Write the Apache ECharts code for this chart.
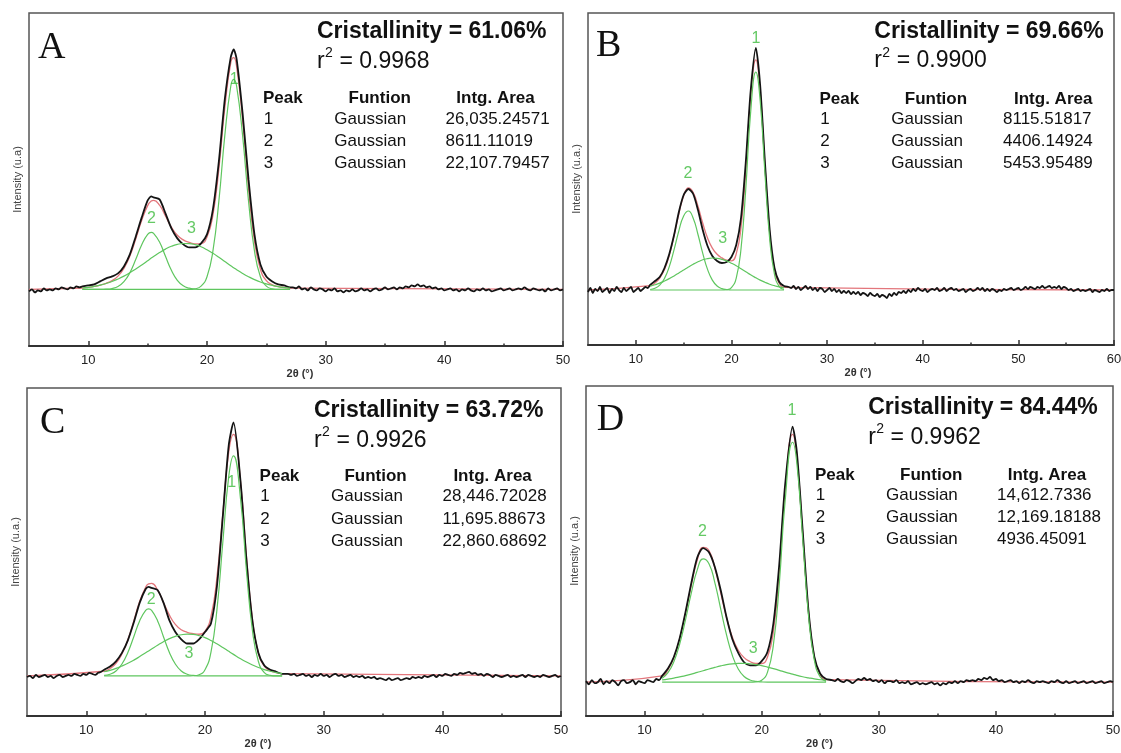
<!DOCTYPE html>
<html><head><meta charset="utf-8">
<script src="https://cdn.jsdelivr.net/npm/echarts@6/dist/echarts.min.js"></script>
<style>html,body{margin:0;padding:0;background:#fff}#c{width:1121px;height:753px}</style>
</head><body><div id="c"></div>
<script>
// ---------------- DATA ----------------
const panelLetters = ['A', 'B', 'C', 'D'];
const crystallinity = ['61.06%', '69.66%', '63.72%', '84.44%'];
const r2Values = ['0.9968', '0.9900', '0.9926', '0.9962'];
const yAxisNames = ['Intensity (u.a)', 'Intensity (u.a.)', 'Intensity (u.a.)', 'Intensity (u.a.)'];
const xAxisName = '2θ (°)';
const xMax = [50, 60, 50, 50];
const majorTicksA = [10, 20, 30, 40, 50];
const majorTicksB = [10, 20, 30, 40, 50, 60];
const minorTicksA = [15, 25, 35, 45];
const minorTicksB = [15, 25, 35, 45, 55];
const tableHeader = ['Peak', 'Funtion', 'Intg. Area'];
const peakNumbers = ['1', '2', '3'];
const functionName = 'Gaussian';
const areasA = ['26,035.24571', '8611.11019', '22,107.79457'];
const areasB = ['8115.51817', '4406.14924', '5453.95489'];
const areasC = ['28,446.72028', '11,695.88673', '22,860.68692'];
const areasD = ['14,612.7336', '12,169.18188', '4936.45091'];

// Panel A (2θ grid of the fitted region, Gaussian components, cumulative fit, measured curve)
const peakX_A = [9.5,10,10.5,11,11.5,12,12.5,13,13.5,14,14.5,15,15.3,15.5,16,16.5,17,17.5,18,18.5,19,19.5,20,20.5,21,21.5,22,22.25,22.5,23,23.5,24,24.5,25,25.5,26,26.5,27];
const comp1_A = [0,0,0,0,0,0,0,0,0,0,0,0,0,0,0,0,0,0,0,0,0.6,3.2,12.7,38.5,88.3,153.8,202.9,210,202.9,153.8,88.3,38.5,12.7,3.2,0.6,0,0,0];
const comp2_A = [0,0,0,0,0.2,0.9,2.9,7.7,16.7,30.1,44.7,55.1,57,56.1,47.4,33.1,19.1,9.1,3.6,1.2,0.3,0,0,0,0,0,0,0,0,0,0,0,0,0,0,0,0,0];
const comp3_A = [1.4,2.1,3.0,4.3,5.9,7.9,10.4,13.3,16.7,20.5,24.5,28.7,31.3,32.9,36.8,40.3,43.1,45.0,45.9,45.8,44.7,42.6,39.6,36.1,32.1,27.9,23.7,21.7,19.7,16.0,12.7,9.8,7.4,5.5,4.0,2.8,1.9,1.3];
const fit_A = [1.4,2.1,3.0,4.3,6.1,8.8,13.3,21.0,33.4,50.6,69.2,83.8,88.3,89.0,84.2,73.4,62.2,54.1,49.5,47.0,45.6,45.8,52.3,74.6,120.4,181.7,226.6,231.7,222.6,169.8,101.0,48.3,20.1,8.7,4.6,2.8,1.9,1.3];
const measPeak_A = [3,4,5,8,11,13,16,23,35,53,72,89,93,92,90,76,61,51,45,42,42,46,55,80,128,190,232,240,230,176,110,55,25,13,8,5,4,2];
const measLeft_A = [-2,0,-3,-1,-2,1,-1,0,-1,1,0,2,1,0,2,1,3,2];            // 5.00 .. 9.25, every 0.25
const measRight_A = [2,1,3,0, 1,-1,2,0, -1,1,0,-2, 0,-1,1,-2, -1,-3,-1,-2, 0,-2,-1,1, -1,0,-2,0, 1,-1,0,2, 0,1,2,0, 2,1,3,2, 4,3,5,3, 4,2,3,1, 2,0,1,-1, 0,1,-1,0, -2,0,-1,1, -1,-2,0,-1, 1,-1,0,-2, -1,0,1,-1, 0,1,-1,0, 1,0,2,0, -1,1,0,-1, 0,-2,1,-1, 0,1,-1,0]; // 27.25 .. 50
const labels_A = [[22.29, 209.8, '1'], [15.31, 70.9, '2'], [18.69, 60.6, '3']];

// Panel B
const peakX_B = [11.5,12,12.5,13,13.5,14,14.5,15,15.5,16,16.5,17,17.5,18,18.5,19,19.5,20,20.5,21,21.5,22,22.55,23,23.5,24,24.5,25,25.5];
const comp1_B = [0,0,0,0,0,0,0,0,0,0,0,0,0,0,0,0,0.3,2.4,11.9,41.3,101.6,176.8,218,189.5,116.7,50.9,15.7,3.4,0.5];
const comp2_B = [0.5,1.8,4.9,11.6,23.4,40.3,59.2,74.0,79.0,71.7,55.5,36.6,20.6,9.9,4.0,1.4,0.4,0,0,0,0,0,0,0,0,0,0,0,0];
const comp3_B = [3.8,5.2,6.9,9.0,11.4,14.1,17.0,20.0,23.0,25.8,28.2,30.2,31.4,32.0,31.7,30.7,29.1,26.8,24.2,21.2,18.2,15.2,12.2,9.9,7.7,5.8,4.3,3.1,2.2];
const fit_B = [4.3,7.0,11.8,20.6,34.8,54.4,76.2,94.0,102.0,97.5,83.7,66.8,52.0,41.9,35.7,32.1,29.8,29.2,36.1,62.5,119.8,192.0,230.2,199.4,124.4,56.7,20.0,6.5,2.7];
const measPeak_B = [5,9,13,22,36,55,78,95,101,96,80,60,44,34,29,27,28,33,45,72,128,198,242,205,128,60,22,8,4];
const measLeft_B = [-2,2,-3,1,-1,3,-2,0,2,-3,1,-1,3,0,-2,2,-1,1,3,-2,0,2,-1,1,3,2];   // 5.00 .. 11.25
const measRight_B = [3,2,4,1, 3,0,2,4, 1,3,0,2, -1,2,1,-2, 0,2,-1,1, -2,0,-3,-1, -3,-1,-4,-2, -4,-2,-5,-3, -4,-6,-3,-5, -6,-4,-7,-5, -6,-8,-4,-6, -3,-5,-2,-3, -1,-3,0,-2, 1,-1,2,0, -1,1,-2,0, 1,0,2,-1, 0,2,-1,1, 2,0,1,-1, 0,1,-2,0, 1,-1,0,2, 0,2,-1,1, -1,1,0,-2, 0,-1,1,0, 1,2,0,1, 2,0,1,3, 1,3,2,1, 3,2,4,2, 3,4,2,3, 2,4,1,3, 2,0,1,-1, 0,1,-1,0, -1,0,1,-2, 0,-1,-2,0, -1,1,-1,0, 0]; // 26 .. 60
const labels_B = [[22.57, 251, '1'], [15.46, 116, '2'], [19.08, 51.2, '3']];

// Panel C
const peakX_C = [11.5,12,12.5,13,13.5,14,14.5,15,15.25,15.5,16,16.5,17,17.5,18,18.5,19,19.5,20,20.5,21,21.5,22,22.4,23,23.5,24,24.5,25,25.5,26,26.5];
const comp1_C = [0,0,0,0,0,0,0,0,0,0,0,0,0,0,0,0,0.2,1.2,6.0,22.6,62.6,127.4,190.2,210,168.2,99.5,43.3,13.8,3.2,0.6,0,0];
const comp2_C = [0.5,1.7,4.8,11.4,22.5,37.5,52.8,62.6,64,62.6,52.8,37.5,22.5,11.4,4.8,1.7,0.5,0.1,0,0,0,0,0,0,0,0,0,0,0,0,0,0];
const comp3_C = [4.0,5.4,7.2,9.5,12.1,15.1,18.5,22.1,23.9,25.7,29.3,32.7,35.6,37.8,39.3,40.0,39.7,38.5,36.6,33.9,30.7,27.2,23.5,20.6,16.4,13.3,10.5,8.1,6.1,4.5,3.2,2.3];
const fit_C = [4.5,7.1,12.0,20.9,34.6,52.6,71.3,84.7,87.9,88.3,82.1,70.2,58.1,49.2,44.1,41.7,40.4,39.8,42.6,56.5,93.3,154.6,213.7,230.6,184.6,112.8,53.8,21.9,9.3,5.1,3.2,2.3];
const measPeak_C = [6,9,14,22,34,51,70,83,85,84,82,70,53,42,35,31,31,35,42,50,85,152,220,242,185,110,52,22,10,6,4,2];
const measLeft_C = [-1,0,-2,1,-1,0,1,-1,0,-2,0,1,-1,0,1,0,2,1,0,2,1,3,2,1,3,4];   // 5.00 .. 11.25
const measRight_C = [2,1,2,0, 1,2,0,1, -1,1,0,2, 0,1,-1,1, 2,0,1,-1, 0,1,-1,0, -1,0,-2,-1, -2,-1,-3,-2, -3,-4,-2,-4, -3,-2,-4,-3, -2,-3,-1,-2, -1,-2,0,-1, 0,1,-1,1, 0,2,1,0, 2,1,3,2, 3,4,2,3, 1,2,0,2, 1,-1,1,0, -1,0,1,-1, 0,-1,0,1, -1,1,0,-1, 0,-1,1,0, -1,0,1,-1, 0]; // 27 .. 50
const labels_C = [[22.26, 184.8, '1'], [15.47, 72.8, '2'], [18.64, 21.1, '3']];

// Panel D
const peakX_D = [11.5,12,12.5,13,13.5,14,14.5,15,15.5,16,16.5,17,17.5,18,18.5,19,19.5,20,20.5,21,21.5,22,22.64,23,23.5,24,24.5,25,25.5];
const comp1_D = [0,0,0,0,0,0,0,0,0,0,0,0,0,0,0,0,0.3,1.8,9.6,35.6,93.2,172.4,229,209.4,137.2,63.7,20.9,4.9,0.8];
const comp2_D = [3.7,9.1,19.5,36.4,59.7,85.5,107.2,117.7,113.1,95.1,70.0,45.1,25.4,12.6,5.4,2.1,0.7,0.2,0,0,0,0,0,0,0,0,0,0,0];
const comp3_D = [2.2,2.9,3.8,5.0,6.2,7.7,9.3,10.9,12.6,14.1,15.5,16.7,17.5,17.9,18.0,17.6,16.8,15.8,14.4,12.9,11.3,9.6,7.6,6.5,5.2,4.1,3.1,2.3,1.7];
const fit_D = [5.9,12.0,23.3,41.4,65.9,93.2,116.5,128.6,125.7,109.2,85.5,61.8,42.9,30.5,23.4,19.7,17.8,17.8,24.0,48.5,104.5,182.0,236.6,215.9,142.4,67.8,24.0,7.2,2.5];
const measPeak_D = [6,13,24,42,67,95,119,128,124,110,88,62,41,28,19,16,16,20,29,56,112,188,244,220,145,68,24,8,3];
const measLeft_D = [1,-2,2,-1,0,3,-2,1,-1,2,0,-3,1,2,-1,0,2,-2,1,0,-1,2,1,0,3,2];   // 5.00 .. 11.25
const measRight_D = [2,1,3,1, 0,2,1,-1, 1,3,2,4, 2,3,1,2, 0,2,-1,1, 1,0,2,-1, 0,-1,1,-2, -1,0,-2,-1, -2,-1,0,-2, -1,-3,-1,-2, 0,-1,1,-1, 1,0,2,1, 2,1,3,2, 4,3,5,2, 3,1,2,0, 1,2,0,1, -1,1,0,2, 0,-1,1,0, 1,0,-1,1, 0,2,0,-1, 1,-1,0,1, -1,0,1,-1, 0,1,-1,0, 1,-1,0,1, 0]; // 26 .. 50
const labels_D = [[22.58, 259, '1'], [14.94, 143.4, '2'], [19.28, 31.7, '3']];

// ---------------- LAYOUT ----------------
const layout = [
  {left: 29, top: 13, width: 534, height: 333, yMin: -56.6, yMax: 276.4, nameGap: 22, namePad: [0, 0, 0, 8]},
  {left: 588, top: 13, width: 526, height: 332, yMin: -55, yMax: 277, nameGap: 22, namePad: [0, 0, 0, 14]},
  {left: 27, top: 388, width: 534, height: 328, yMin: -38.2, yMax: 274.8, nameGap: 22, namePad: [0, 72, 0, 0]},
  {left: 586, top: 386, width: 527, height: 330, yMin: -32.3, yMax: 282.7, nameGap: 22, namePad: [0, 60, 0, 0]}
];
const textPos = [
  {letter: [9, 35], crist: [288, 18.3], r2: [288, 48.3], head: 85.6, rows: [106, 128.2, 149.9], peak: 234, funH: 319.6, funR: 305.3, areaH: 427.3, areaR: 416.6},
  {letter: [8, 33], crist: [286.3, 18.3], r2: [286.3, 48], head: 86.3, rows: [106.2, 128.8, 150.4], peak: 231.5, funH: 316.8, funR: 303.2, areaH: 426, areaR: 415},
  {letter: [13, 35], crist: [287, 23], r2: [287, 52.6], head: 88.8, rows: [108.6, 131, 153], peak: 232.6, funH: 317.4, funR: 304.1, areaH: 426.4, areaR: 415.6},
  {letter: [10.7, 34], crist: [282.2, 21.6], r2: [282.2, 51.4], head: 88.9, rows: [109.5, 131, 153.2], peak: 229, funH: 314.1, funR: 300, areaH: 421.7, areaR: 411}
];

// ---------------- BUILD ----------------
const pairs = (xs, ys) => xs.map((x, i) => [x, ys[i]]);
const gridPairs = (x0, ys) => ys.map((y, i) => [x0 + i * 0.25, y]);

const panels = [
  {px: peakX_A, c1: comp1_A, c2: comp2_A, c3: comp3_A, fit: fit_A, meas: measPeak_A, left: measLeft_A, leftX0: 5, right: measRight_A, rightX0: 27.25, labels: labels_A, areas: areasA, major: majorTicksA, minor: minorTicksA},
  {px: peakX_B, c1: comp1_B, c2: comp2_B, c3: comp3_B, fit: fit_B, meas: measPeak_B, left: measLeft_B, leftX0: 5, right: measRight_B, rightX0: 26, labels: labels_B, areas: areasB, major: majorTicksB, minor: minorTicksB},
  {px: peakX_C, c1: comp1_C, c2: comp2_C, c3: comp3_C, fit: fit_C, meas: measPeak_C, left: measLeft_C, leftX0: 5, right: measRight_C, rightX0: 27, labels: labels_C, areas: areasC, major: majorTicksA, minor: minorTicksA},
  {px: peakX_D, c1: comp1_D, c2: comp2_D, c3: comp3_D, fit: fit_D, meas: measPeak_D, left: measLeft_D, leftX0: 5, right: measRight_D, rightX0: 26, labels: labels_D, areas: areasD, major: majorTicksA, minor: minorTicksA}
];

const FONT = '"Liberation Sans", Arial, sans-serif';
const grids = [], xAxes = [], yAxes = [], series = [], graphics = [];
const GREEN = '#5fc65f';

panels.forEach((p, i) => {
  const L = layout[i];
  grids.push({left: L.left, top: L.top, width: L.width, height: L.height, show: true,
    borderColor: '#555', borderWidth: 1.5, backgroundColor: 'transparent', containLabel: false, outerBoundsMode: 'none'});
  xAxes.push({gridIndex: i, type: 'value', min: 5, max: xMax[i], position: 'bottom',
    axisLine: {show: true, onZero: false, lineStyle: {color: '#333', width: 2}},
    axisTick: {show: true, inside: true, length: 5, customValues: p.major, lineStyle: {color: '#333', width: 1.5}},
    axisLabel: {show: true, customValues: p.major, margin: 8, fontSize: 13, color: '#222', fontFamily: FONT},
    splitLine: {show: false},
    name: xAxisName, nameLocation: 'middle', nameGap: L.nameGap,
    nameTextStyle: {fontSize: 11, fontWeight: 'bold', color: '#333', fontFamily: FONT, padding: L.namePad}});
  xAxes.push({gridIndex: i, type: 'value', min: 5, max: xMax[i], position: 'bottom',
    axisLine: {show: false, onZero: false},
    axisTick: {show: true, inside: true, length: 2.5, customValues: p.minor, lineStyle: {color: '#333', width: 1.5}},
    axisLabel: {show: false}, splitLine: {show: false}});
  yAxes.push({gridIndex: i, type: 'value', min: L.yMin, max: L.yMax,
    axisLine: {show: false, onZero: false}, axisTick: {show: false}, axisLabel: {show: false}, splitLine: {show: false},
    name: yAxisNames[i], nameLocation: 'middle', nameGap: 6,
    nameTextStyle: {fontSize: 11, color: '#444', fontFamily: FONT}});

  const xi = 2 * i;
  const fitData = [[5, 0]].concat(pairs(p.px, p.fit), [[xMax[i], 0]]);
  const measData = gridPairs(p.leftX0, p.left).concat(pairs(p.px, p.meas), gridPairs(p.rightX0, p.right));
  series.push({type: 'line', name: 'fit', xAxisIndex: xi, yAxisIndex: i, data: fitData, smooth: true,
    showSymbol: false, silent: true, lineStyle: {color: '#e3767c', width: 1.3}, z: 2});
  series.push({type: 'line', name: 'measured', xAxisIndex: xi, yAxisIndex: i, data: measData, smooth: 0.25,
    showSymbol: false, silent: true, lineStyle: {color: '#141414', width: 1.8}, z: 3});
  [p.c1, p.c2, p.c3].forEach((c, k) => {
    series.push({type: 'line', name: 'peak ' + (k + 1), xAxisIndex: xi, yAxisIndex: i, data: pairs(p.px, c), smooth: true,
      showSymbol: false, silent: true, lineStyle: {color: GREEN, width: 1.2}, z: 4});
  });
  series.push({type: 'scatter', xAxisIndex: xi, yAxisIndex: i, data: p.labels, symbolSize: 0, silent: true, z: 6,
    label: {show: true, position: 'inside', formatter: d => d.data[2], color: '#3dbb3d', fontSize: 16, fontFamily: FONT}});

  // texts
  const T = textPos[i];
  const X = L.left, Y = L.top;
  const txt = (x, y, text, font) => graphics.push({type: 'text', x: X + x, y: Y + y, silent: true, z: 10,
    style: {text: text, font: font, fill: '#111', textAlign: 'left', textVerticalAlign: 'middle', align: 'left', verticalAlign: 'middle'}});
  txt(T.letter[0], T.letter[1], panelLetters[i], '38px "Liberation Serif", "Times New Roman", serif');
  txt(T.crist[0], T.crist[1], 'Cristallinity = ' + crystallinity[i], 'bold 23px ' + FONT);
  txt(T.r2[0], T.r2[1], 'r', '23px ' + FONT);
  txt(T.r2[0] + 8, T.r2[1] - 8, '2', '14px ' + FONT);
  txt(T.r2[0] + 16, T.r2[1], ' = ' + r2Values[i], '23px ' + FONT);
  txt(T.peak, T.head, tableHeader[0], 'bold 17px ' + FONT);
  txt(T.funH, T.head, tableHeader[1], 'bold 17px ' + FONT);
  txt(T.areaH, T.head, tableHeader[2], 'bold 17px ' + FONT);
  T.rows.forEach((ry, k) => {
    txt(T.peak + 0.7, ry, peakNumbers[k], '17px ' + FONT);
    txt(T.funR, ry, functionName, '17px ' + FONT);
    txt(T.areaR, ry, p.areas[k], '17px ' + FONT);
  });
});

const chart = echarts.init(document.getElementById('c'), null, {renderer: 'canvas'});
chart.setOption({
  animation: false,
  backgroundColor: '#fff',
  grid: grids, xAxis: xAxes, yAxis: yAxes, series: series, graphic: graphics
});
</script></body></html>
